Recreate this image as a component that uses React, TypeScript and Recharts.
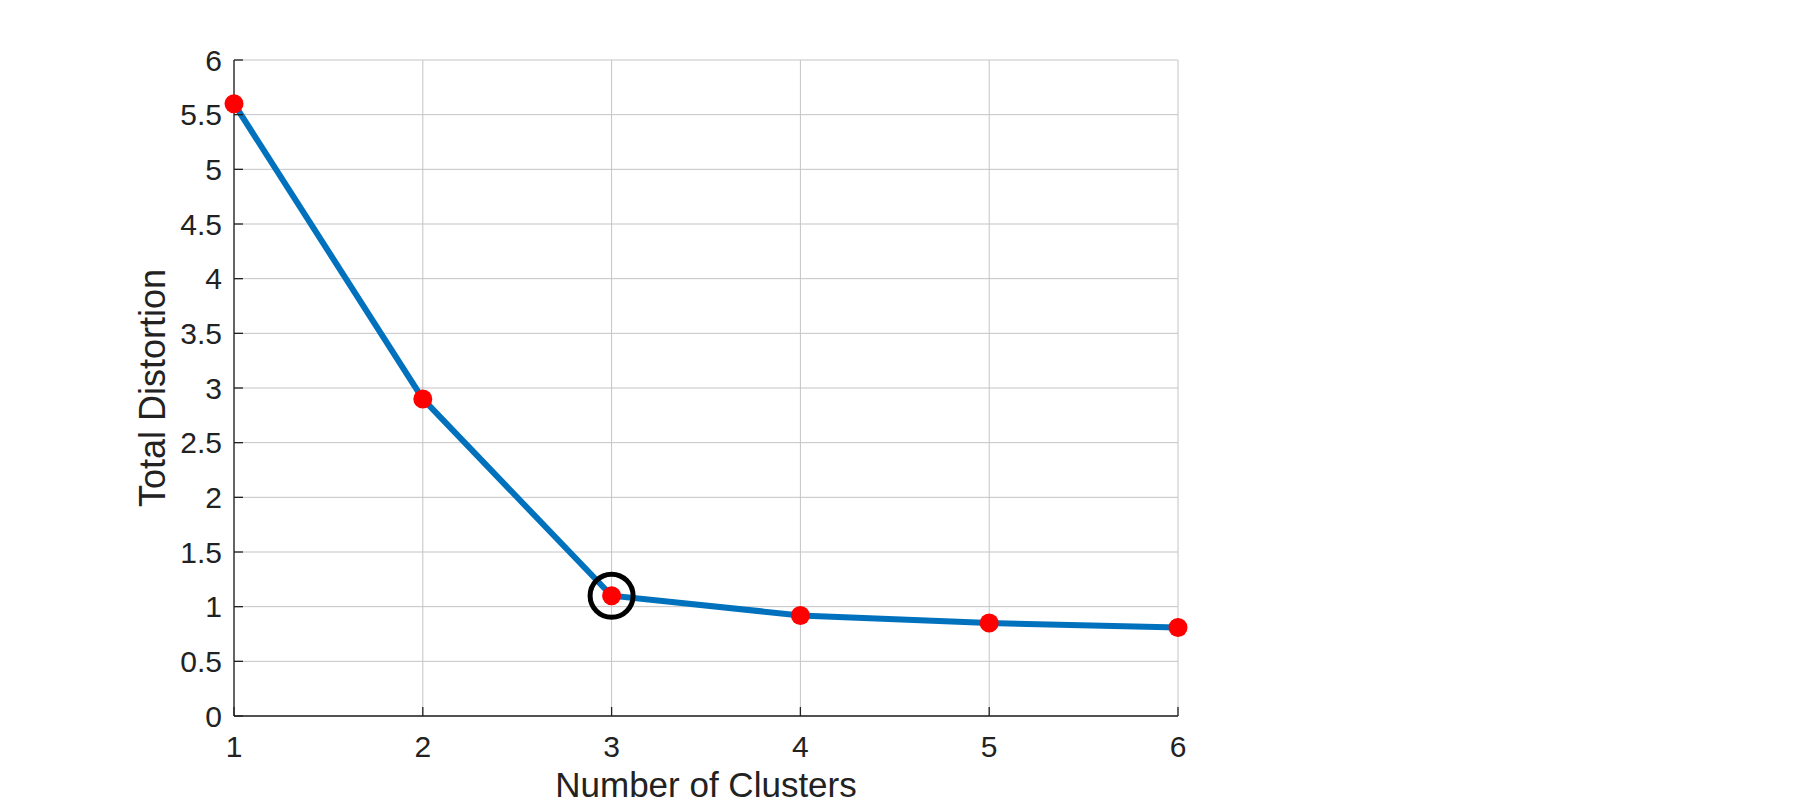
import { LineChart, Line, XAxis, YAxis, CartesianGrid, ReferenceDot } from 'recharts'

const clusters = [1, 2, 3, 4, 5, 6]
const distortion = [5.6, 2.9, 1.1, 0.92, 0.85, 0.81]
const xTicks = [1, 2, 3, 4, 5, 6]
const yTicks = [0, 0.5, 1, 1.5, 2, 2.5, 3, 3.5, 4, 4.5, 5, 5.5, 6]
const elbowK = 3

const data = clusters.map((k, i) => ({ k, d: distortion[i] }))

const font = '"Liberation Sans", Arial, Helvetica, sans-serif'
const ink = '#222'
const line = { stroke: ink, strokeWidth: 1.3 }
const noLabel = () => <g />

export default function App() {
  return (
    <div style={{ position: 'absolute', left: 0, top: 0, width: 1800, height: 804, background: '#fff' }}>
      <LineChart width={1800} height={804} data={data} margin={{ top: 60, right: 622, bottom: 0, left: 134 }}>
        <CartesianGrid stroke="#c4c4c4" strokeWidth={1} />
        <XAxis
          dataKey="k"
          type="number"
          domain={[1, 6]}
          ticks={xTicks}
          height={88}
          tickSize={-9}
          tickMargin={29}
          axisLine={line}
          tickLine={line}
          fontSize={30}
          fontFamily={font}
          tick={{ fill: ink, fontSize: 30 }}
          label={{ value: 'Number of Clusters', position: 'insideBottom', offset: 7, style: { fontSize: 35, fill: ink, fontFamily: font } }}
        />
        <XAxis
          xAxisId="top"
          orientation="top"
          dataKey="k"
          type="number"
          domain={[1, 6]}
          ticks={xTicks}
          height={0}
          tickSize={-9}
          axisLine={line}
          tickLine={line}
          tick={noLabel}
        />
        <YAxis
          type="number"
          domain={[0, 6]}
          ticks={yTicks}
          width={100}
          tickSize={-9}
          tickMargin={21}
          interval={0}
          axisLine={line}
          tickLine={line}
          fontSize={30}
          fontFamily={font}
          tick={{ fill: ink, fontSize: 30 }}
          label={{ value: 'Total Distortion', angle: -90, position: 'insideLeft', offset: 18, style: { fontSize: 36, fill: ink, fontFamily: font, textAnchor: 'middle' } }}
        />
        <YAxis
          yAxisId="right"
          orientation="right"
          type="number"
          domain={[0, 6]}
          ticks={yTicks}
          width={0}
          tickSize={-9}
          interval={0}
          axisLine={line}
          tickLine={line}
          tick={noLabel}
        />
        <Line
          dataKey="d"
          type="linear"
          stroke="#0072BD"
          strokeWidth={6}
          dot={{ r: 9.5, fill: '#ff0000', stroke: 'none' }}
          activeDot={false}
          isAnimationActive={false}
        />
        <ReferenceDot
          x={elbowK}
          y={distortion[clusters.indexOf(elbowK)]}
          r={21.5}
          fill="none"
          stroke="#000"
          strokeWidth={5}
        />
      </LineChart>
    </div>
  )
}
